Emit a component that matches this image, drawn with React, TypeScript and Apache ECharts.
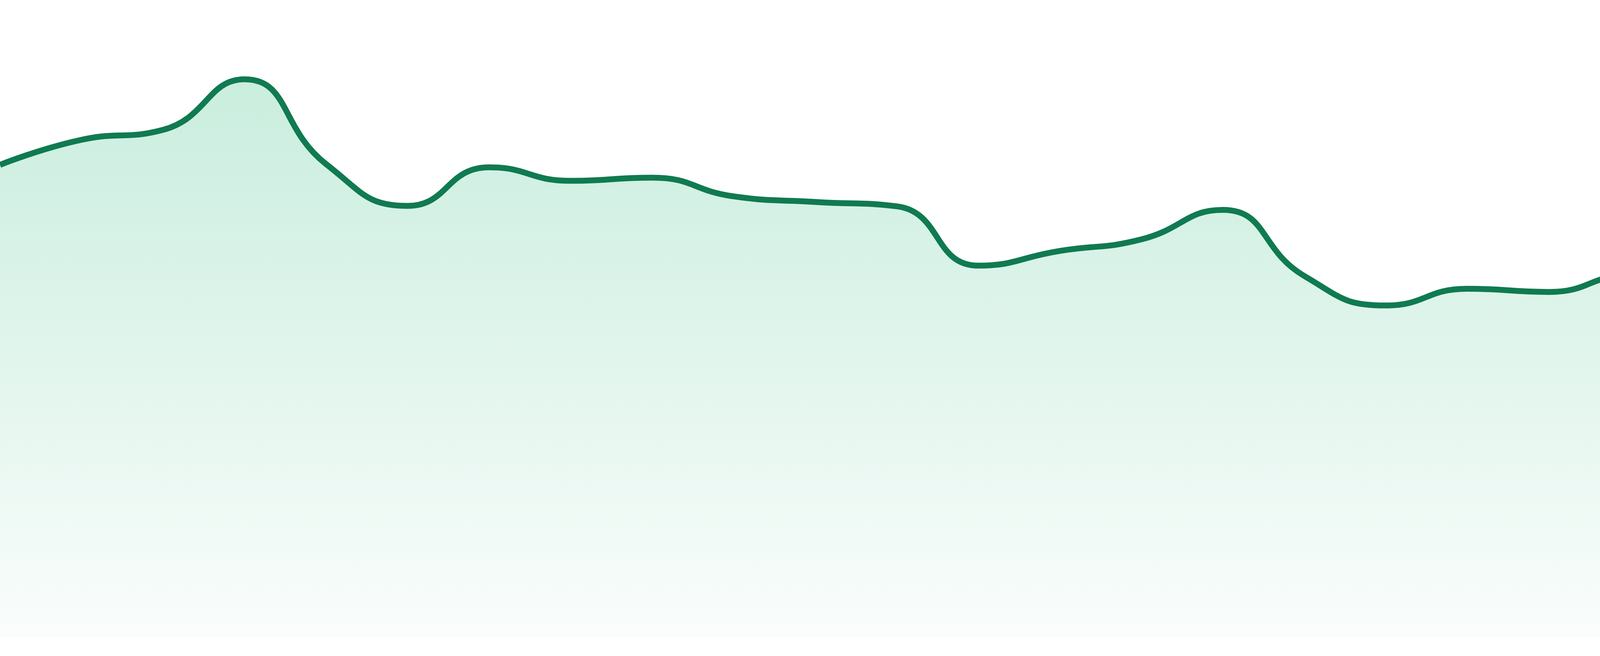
import { useEffect, useRef } from "react";
import * as echarts from "echarts";

// 24 evenly spaced samples
const categories = [
  "1", "2", "3", "4", "5", "6", "7", "8", "9", "10", "11", "12",
  "13", "14", "15", "16", "17", "18", "19", "20", "21", "22", "23", "24",
];

const values = [
  118.6, 124.9, 127.4, 140.1, 118.8, 108.3, 118.0, 114.6, 115.4, 110.7, 109.3, 108.2,
  93.3, 97.0, 99.9, 107.3, 90.7, 83.3, 87.5, 86.7, 90.9, 87.3, 89.4, 82.3,
];

const LINE_COLOR = "#107a51";
const FILL_TOP = "#b2e6d0";
const FILL_BOTTOM = "#f8fcfa";

export default function App() {
  const chartRef = useRef<HTMLDivElement | null>(null);

  useEffect(() => {
    const el = chartRef.current;
    if (!el) return;

    const chart = echarts.init(el, undefined, { renderer: "svg" });
    chart.setOption({
      animation: false,
      grid: { left: 0, right: 0, top: 0, bottom: 48 },
      xAxis: {
        type: "category",
        data: categories,
        boundaryGap: false,
        show: false,
      },
      yAxis: {
        type: "value",
        min: 0,
        max: 160,
        show: false,
        splitLine: { show: false },
      },
      series: [
        {
          type: "line",
          data: values,
          smooth: true,
          symbol: "none",
          lineStyle: { color: LINE_COLOR, width: 15 },
          areaStyle: {
            color: new echarts.graphic.LinearGradient(0, 0, 0, 1, [
              { offset: 0, color: FILL_TOP },
              { offset: 1, color: FILL_BOTTOM },
            ]),
          },
        },
      ],
    });

    return () => {
      chart.dispose();
    };
  }, []);

  return (
    <div
      ref={chartRef}
      style={{ position: "absolute", left: 0, top: 0, width: "4800px", height: "1680px", background: "#fff" }}
    />
  );
}
